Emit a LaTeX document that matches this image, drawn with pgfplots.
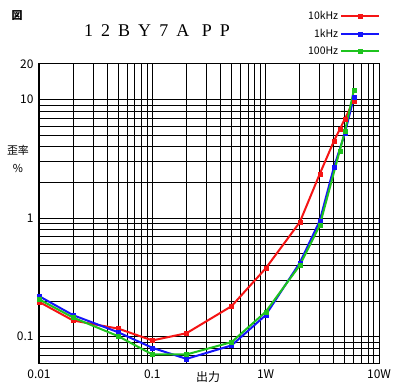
\documentclass[border=0pt]{standalone}
\usepackage{fontspec}
\setmainfont{Noto Sans CJK JP}
\newfontfamily\titlefont[LetterSpace=45]{Liberation Serif}
\usepackage{pgfplots}
\pgfplotsset{compat=1.18}
\definecolor{cr}{RGB}{245,20,20}
\definecolor{cb}{RGB}{20,20,250}
\definecolor{cg}{RGB}{30,195,30}
\begin{document}
\begin{tikzpicture}
\useasboundingbox (0,0) rectangle (400bp,390bp);
\begin{axis}[
  at={(39bp,27bp)}, anchor=south west,
  scale only axis, width=340bp, height=299bp,
  xmode=log, ymode=log,
  xmin=0.01, xmax=10, ymin=0.06, ymax=20,
  xtick={0.01,0.1,1,10}, xticklabels={0.01,0.1,1W,10W},
  ytick={0.1,1,10}, yticklabels={0.1,1,10},
  extra y ticks={20}, extra y tick labels={20}, extra y tick style={grid=none},
  minor xtick={0.02,0.03,0.04,0.05,0.06,0.07,0.08,0.09,0.2,0.3,0.4,0.5,0.6,0.7,0.8,0.9,2,3,4,5,6,7,8,9},
  minor ytick={0.07,0.08,0.09,0.2,0.3,0.4,0.5,0.6,0.7,0.8,0.9,2,3,4,5,6,7,8,9},
  grid=both,
  major grid style={black, line width=0.9bp},
  minor grid style={black, line width=0.9bp},
  axis line style={black, line width=1bp},
  major tick length=0pt, minor tick length=0pt,
  tick label style={font=\fontsize{12}{12}\selectfont},
  xticklabel style={yshift=-3bp},
  yticklabel style={xshift=-2bp},
  /pgf/number format/assume math mode=true,
  legend style={at={(1.004,1.02)}, anchor=south east, draw=none, fill=none,
    font=\fontsize{10.5}{10.5}\selectfont, row sep=4bp, inner sep=0pt},
  legend cell align=right,
  legend plot pos=right,
  legend image code/.code={\draw[mark repeat=2,mark phase=2,#1] plot coordinates {(0bp,0bp) (19bp,0bp) (38bp,0bp)};},
  every axis plot/.append style={line width=2bp, mark=square*, mark size=2bp},
]
\addplot[cr, mark options={fill=cr, line width=0.3bp}] coordinates {(0.01,0.197)(0.02,0.137)(0.05,0.117)(0.1,0.093)(0.2,0.107)(0.5,0.181)(1,0.377)(2,0.925)(3,2.36)(4,4.47)(4.5,5.6)(5,6.9)(6,9.8)};
\addlegendentry{10kHz}
\addplot[cb, mark options={fill=cb, line width=0.3bp}] coordinates {(0.01,0.22)(0.02,0.152)(0.05,0.109)(0.1,0.0806)(0.2,0.065)(0.5,0.0844)(1,0.152)(2,0.42)(3,0.95)(4,2.69)(5,5.2)(6,10.5)};
\addlegendentry{1kHz}
\addplot[cg, mark options={fill=cg, line width=0.3bp}] coordinates {(0.01,0.207)(0.02,0.145)(0.05,0.101)(0.1,0.0708)(0.2,0.0708)(0.5,0.090)(1,0.162)(2,0.40)(3,0.87)(4.5,3.7)(5,5.4)(6,12)};
\addlegendentry{100Hz}
\end{axis}
\node[font=\titlefont\fontsize{18}{18}\selectfont] at (157bp,359bp) {12BY7A PP};
\node[font=\bfseries\fontsize{11}{11}\selectfont] at (17bp,374bp) {図};
\node[font=\fontsize{11}{11}\selectfont] at (18bp,240bp) {歪率};
\node[font=\fontsize{11}{11}\selectfont] at (18bp,222bp) {\%};
\node[font=\fontsize{12}{12}\selectfont] at (208bp,13bp) {出力};
\end{tikzpicture}
\end{document}
